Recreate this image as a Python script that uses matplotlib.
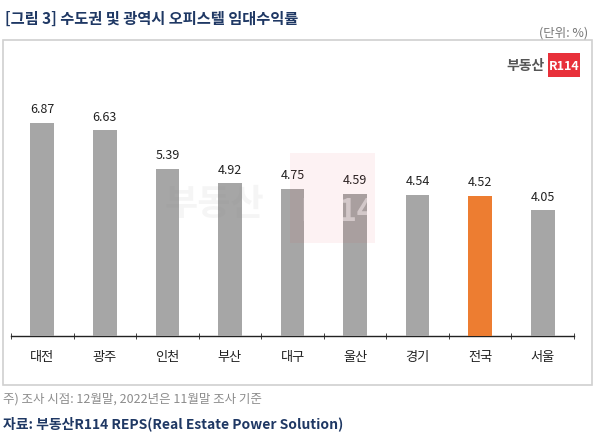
import matplotlib
matplotlib.use('Agg')
from matplotlib import pyplot as plt
from matplotlib.patches import Rectangle
import numpy as np

plt.rcParams['font.family'] = ['Noto Sans CJK KR', 'DejaVu Sans']

regions = ['대전', '광주', '인천', '부산', '대구', '울산', '경기', '전국', '서울']
yields = [6.87, 6.63, 5.39, 4.92, 4.75, 4.59, 4.54, 4.52, 4.05]
highlight = '전국'

GRAY = '#A6A6A6'
ORANGE = '#ED7D31'
NAVY = '#1F3864'

W, H = 595, 438
fig = plt.figure(figsize=(W / 100, H / 100), dpi=100)

def fx(px):
    return px / W

def fy(py):
    return 1 - py / H

# panel frame
fig.patches.append(Rectangle((fx(3), fy(385)), fx(589) - fx(0), fy(40) - fy(385),
                             transform=fig.transFigure, fill=False,
                             edgecolor='#D0D0D0', linewidth=1.2))

ax = fig.add_axes([fx(11), fy(336), fx(574) - fx(11), fy(88) - fy(336)])
x = np.arange(len(regions))
colors = [ORANGE if r == highlight else GRAY for r in regions]
ax.bar(x, yields, width=0.38, color=colors, zorder=3)
for xi, v in zip(x, yields):
    ax.text(xi, v + 0.22, f'{v:.2f}', ha='center', va='bottom', fontsize=9, color='#222222')

ax.set_xlim(-0.5, len(regions) - 0.5)
ax.set_ylim(0, 8)
for s in ['top', 'right', 'left']:
    ax.spines[s].set_visible(False)
ax.spines['bottom'].set_color('#222222')
ax.spines['bottom'].set_linewidth(1.0)
ax.set_yticks([])
ax.set_xticks(x)
ax.set_xticklabels(regions, fontsize=9.5, color='#222222')
ax.tick_params(axis='x', length=0, pad=11)
ax.set_xticks(np.arange(len(regions) + 1) - 0.5, minor=True)
ax.tick_params(axis='x', which='minor', length=5, direction='inout', color='#222222')

# watermark
fig.patches.append(Rectangle((fx(290), fy(243)), fx(85), fy(153) - fy(243),
                             transform=fig.transFigure, facecolor='#E8303A',
                             alpha=0.06, edgecolor='none', zorder=5))
fig.text(fx(165), fy(205), '부동산', fontsize=26, fontweight='bold', color='#888888',
         alpha=0.08, va='center', ha='left')
fig.text(fx(300), fy(212), 'R114', fontsize=22, fontweight='bold', color='white',
         alpha=0.5, va='center', ha='left')

# logo
fig.text(fx(545), fy(66), '부동산', fontsize=10, fontweight='bold', color='#555555',
         ha='right', va='center')
fig.patches.append(Rectangle((fx(548), fy(77)), fx(32), fy(53) - fy(77),
                             transform=fig.transFigure, facecolor='#E8303A',
                             edgecolor='none'))
fig.text(fx(564), fy(66), 'R114', fontsize=9, fontweight='bold', color='white',
         ha='center', va='center')

fig.text(fx(5), fy(19), '[그림 3] 수도권 및 광역시 오피스텔 임대수익률', fontsize=11,
         fontweight='bold', color=NAVY, ha='left', va='center')
fig.text(fx(588), fy(33), '(단위: %)', fontsize=9, color='#777777', ha='right', va='center')
fig.text(fx(3), fy(399), '주) 조사 시점: 12월말, 2022년은 11월말 조사 기준', fontsize=9,
         color='#8C8C8C', ha='left', va='center')
fig.text(fx(3), fy(424), '자료: 부동산R114 REPS(Real Estate Power Solution)', fontsize=10,
         fontweight='bold', color=NAVY, ha='left', va='center')

fig.savefig('out.png', dpi=100)
